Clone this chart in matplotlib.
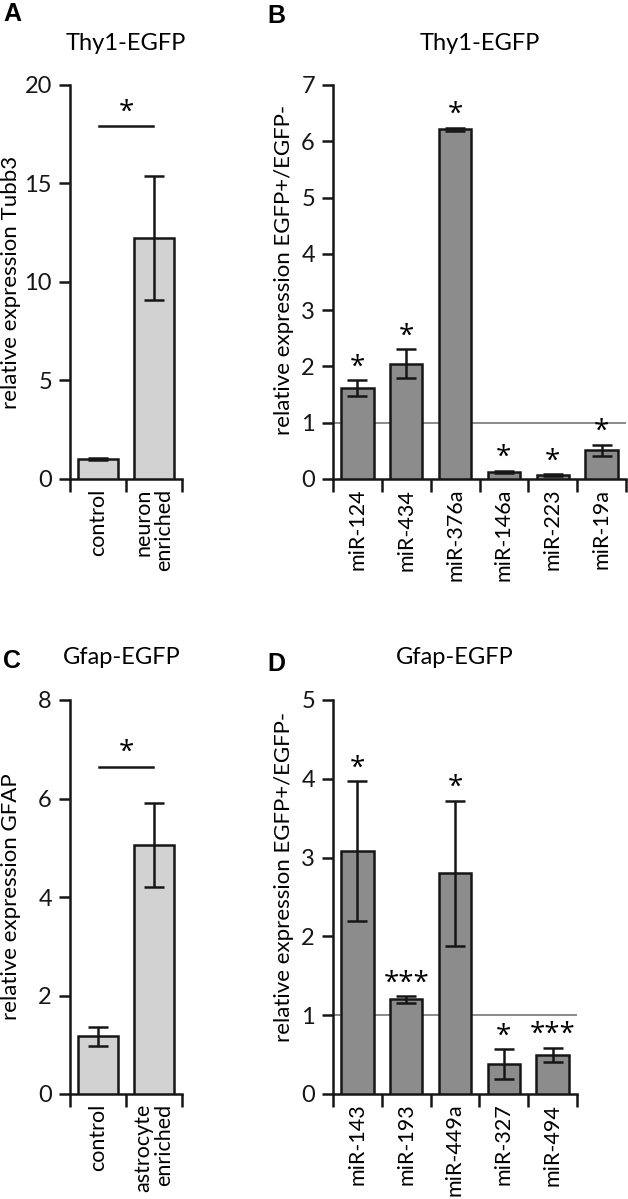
import matplotlib as mpl
mpl.use('Agg')
import matplotlib.pyplot as plt
import numpy as np

plt.rcParams['font.family'] = ['Lato', 'DejaVu Sans']
plt.rcParams['font.size'] = 16

# panel A - Thy1-EGFP, Tubb3
a_cats = ['control', 'neuron\nenriched']
a_vals = [1.0, 12.25]
a_errs = [0.06, 3.15]

# panel B - Thy1-EGFP, miRNAs
b_cats = ['miR-124', 'miR-434', 'miR-376a', 'miR-146a', 'miR-223', 'miR-19a']
b_vals = [1.62, 2.05, 6.21, 0.13, 0.07, 0.51]
b_errs = [0.14, 0.26, 0.03, 0.02, 0.01, 0.10]
b_stars = ['*', '*', '*', '*', '*', '*']

# panel C - Gfap-EGFP, GFAP
c_cats = ['control', 'astrocyte\nenriched']
c_vals = [1.17, 5.05]
c_errs = [0.20, 0.85]

# panel D - Gfap-EGFP, miRNAs
d_cats = ['miR-143', 'miR-193', 'miR-449a', 'miR-327', 'miR-494']
d_vals = [3.08, 1.20, 2.80, 0.38, 0.50]
d_errs = [0.89, 0.04, 0.92, 0.19, 0.09]
d_stars = ['*', '***', '*', '*', '***']

W, H = 628, 1199
LW = 1.8
FS = 16
light = '#d2d2d2'
dark = '#8c8c8c'
edge = '#161616'
STAR = dict(fontsize=20, family=['Open Sans', 'DejaVu Sans'])


def px(l, t, w, h):
    # pixel box -> figure coords
    return [l / W, 1 - (t + h) / H, w / W, h / H]


def painel(ax, cats, vals, errs, cor, larg, ymax, yticks, ylab, lab_y=0.5, lab_x=-0.5):
    n = len(cats)
    x = np.arange(n) + 0.5
    ax.bar(x, vals, larg, color=cor, edgecolor=edge, linewidth=LW, zorder=3,
           yerr=errs, capsize=7,
           error_kw=dict(ecolor=edge, elinewidth=LW, capthick=LW, zorder=4, clip_on=False))
    ax.set_xlim(0, n)
    ax.set_ylim(0, ymax)
    for s in ['top', 'right']:
        ax.spines[s].set_visible(False)
    for s in ['left', 'bottom']:
        ax.spines[s].set_linewidth(LW)
        ax.spines[s].set_color(edge)
    ax.set_yticks(yticks)
    ax.tick_params(axis='y', length=8, width=LW, pad=5, colors=edge, labelsize=FS + 1)
    ax.set_xticks(np.arange(n + 1))
    ax.set_xticklabels([])
    ax.tick_params(axis='x', which='major', length=9, width=LW, colors=edge)
    ax.set_xticks(x, minor=True)
    ax.set_xticklabels(cats, minor=True, rotation=90, va='top', ha='center',
                       multialignment='right', fontsize=FS - 0.5, linespacing=1.05)
    ax.tick_params(axis='x', which='minor', length=0, pad=7)
    ax.set_ylabel(ylab, fontsize=FS, va='center')
    ax.yaxis.set_label_coords(lab_x, lab_y)
    return x


fig = plt.figure(figsize=(W / 100, H / 100), dpi=100)

# A
axA = fig.add_axes(px(70, 85, 112, 394))
painel(axA, a_cats, a_vals, a_errs, light, 0.71, 20, [0, 5, 10, 15, 20],
       'relative expression Tubb3', lab_x=-0.53)
axA.plot([0.52, 1.48], [17.9, 17.9], color=edge, lw=LW, clip_on=False)
axA.text(1.0, 17.9, '*', ha='center', va='bottom', **STAR)

# B
axB = fig.add_axes(px(333, 85, 293, 394))
xb = painel(axB, b_cats, b_vals, b_errs, dark, 0.66, 7, range(8),
            'relative expression EGFP+/EGFP-', lab_x=-0.168, lab_y=0.53)
axB.axhline(1, color='#8a8a8a', lw=1.4, zorder=1)
for xi, v, e, s in zip(xb, b_vals, b_errs, b_stars):
    axB.annotate(s, (xi, v + e), xytext=(0, -1), textcoords='offset points',
                 ha='center', va='bottom', **STAR)

# C
axC = fig.add_axes(px(70, 700, 112, 394))
painel(axC, c_cats, c_vals, c_errs, light, 0.71, 8, [0, 2, 4, 6, 8],
       'relative expression GFAP', lab_x=-0.53)
axC.plot([0.52, 1.48], [6.64, 6.64], color=edge, lw=LW, clip_on=False)
axC.text(1.0, 6.64, '*', ha='center', va='bottom', **STAR)

# D
axD = fig.add_axes(px(333, 700, 244, 394))
xd = painel(axD, d_cats, d_vals, d_errs, dark, 0.66, 5, range(6),
            'relative expression EGFP+/EGFP-', lab_x=-0.2, lab_y=0.55)
axD.axhline(1, color='#8a8a8a', lw=1.4, zorder=1)
for xi, v, e, s in zip(xd, d_vals, d_errs, d_stars):
    axD.annotate(s, (xi, v + e), xytext=(0, -1), textcoords='offset points',
                 ha='center', va='bottom', **STAR)

# titles and panel letters
fig.text(126 / W, 1 - 43 / H, 'Thy1-EGFP', ha='center', va='center', fontsize=FS + 1)
fig.text(480 / W, 1 - 43 / H, 'Thy1-EGFP', ha='center', va='center', fontsize=FS + 1)
fig.text(122 / W, 1 - 657 / H, 'Gfap-EGFP', ha='center', va='center', fontsize=FS + 1)
fig.text(455 / W, 1 - 657 / H, 'Gfap-EGFP', ha='center', va='center', fontsize=FS + 1)

for let, xx, yy in [('A', 3, 14), ('B', 267, 16), ('C', 3, 661), ('D', 267, 664)]:
    fig.text(xx / W, 1 - yy / H, let, ha='left', va='center', fontsize=18,
             fontweight='bold', family='Liberation Sans')

fig.savefig('out.png', dpi=100)
